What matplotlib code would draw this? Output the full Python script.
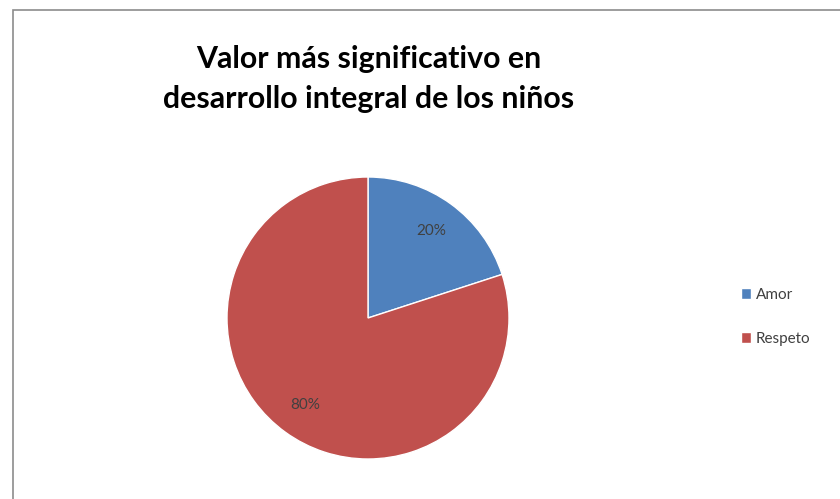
import matplotlib.pyplot as plt
from matplotlib.patches import Rectangle

# datos
categorias = ["Amor", "Respeto"]
valores = [20, 80]
colores = ["#4F81BD", "#C0504D"]
titulo = ["Valor más significativo en", "desarrollo integral de los niños"]

plt.rcParams["font.family"] = ["Lato", "DejaVu Sans"]

fig = plt.figure(figsize=(8.4, 4.99), dpi=100)

# marco del gráfico
fig.patches.append(Rectangle((13 / 840, -0.1), 1.0, 1 - 10 / 499 + 0.1,
                             transform=fig.transFigure, fill=False,
                             edgecolor="#8c8c8c", linewidth=1.2))

ax = fig.add_axes([227 / 840, 40 / 499, 282 / 840, 282 / 499])
wedges, textos, autotextos = ax.pie(
    valores, colors=colores, startangle=90, counterclock=False,
    autopct="%d%%", pctdistance=0.76,
    wedgeprops=dict(edgecolor="white", linewidth=1.0),
    textprops=dict(fontsize=11, color="#404040"))
ax.set_xlim(-1, 1)
ax.set_ylim(-1, 1)
ax.set_aspect("equal")

# título en dos líneas
for linea, y in zip(titulo, [68, 108]):
    fig.text(369 / 840, 1 - y / 499, linea, ha="center", va="baseline",
             fontsize=21.8, fontweight="bold", color="black")

fig.legend(wedges, categorias, loc="center left",
           bbox_to_anchor=(727 / 840, 1 - 317 / 499), frameon=False,
           fontsize=11, handlelength=0.7, handleheight=0.7,
           handletextpad=0.3, labelspacing=1.95, labelcolor="#404040")

fig.savefig("out.png", dpi=100)
